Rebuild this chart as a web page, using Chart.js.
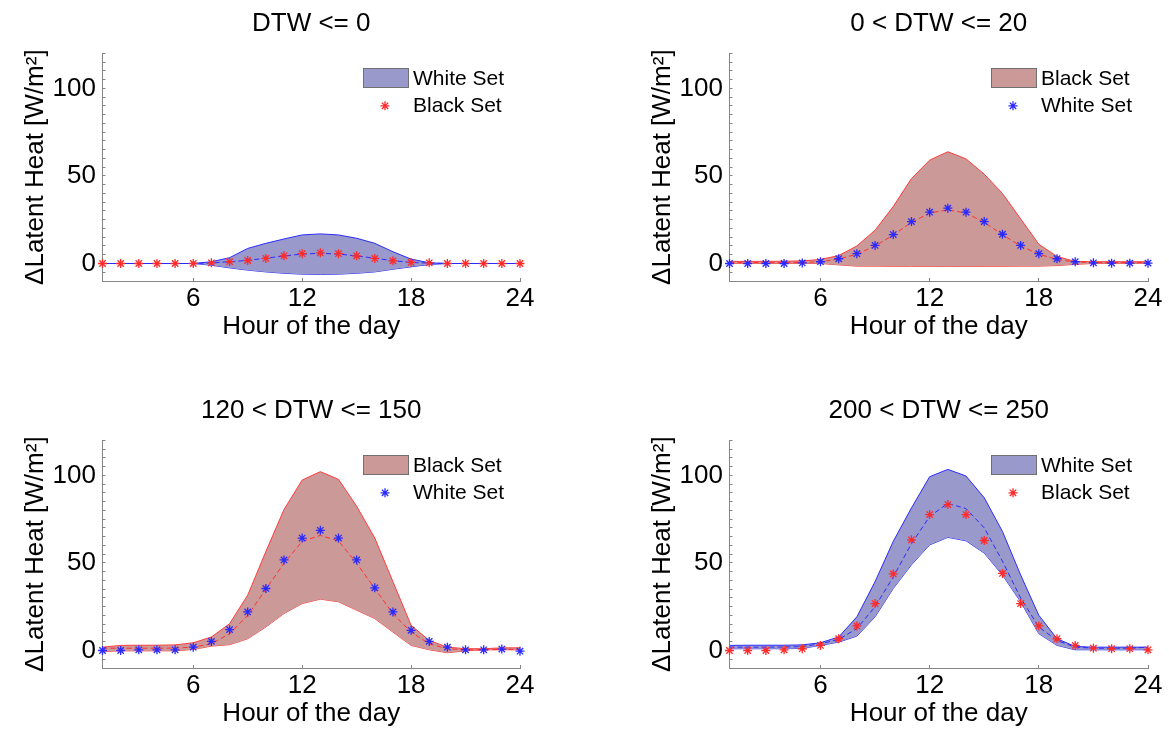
<!DOCTYPE html>
<html>
<head>
<meta charset="utf-8">
<script src="https://cdn.jsdelivr.net/npm/chart.js"></script>
<style>
  html, body { margin: 0; padding: 0; background: #ffffff; }
  body { width: 1169px; height: 729px; position: relative; overflow: hidden; }
  canvas { position: absolute; }
</style>
</head>
<body>
<canvas id="c1" width="627" height="387" style="left:0px;top:0px;"></canvas>
<canvas id="c2" width="542" height="387" style="left:627px;top:0px;"></canvas>
<canvas id="c3" width="627" height="342" style="left:0px;top:387px;"></canvas>
<canvas id="c4" width="542" height="342" style="left:627px;top:387px;"></canvas>
<script>
// ---------------- data ----------------
const hours = [1,2,3,4,5,6,7,8,9,10,11,12,13,14,15,16,17,18,19,20,21,22,23,24];
const xTickValues = [6, 12, 18, 24];
const yLabelValues = [0, 50, 100];
const yMinorStep = 5;

const panelTitles = ['DTW <= 0', '0 < DTW <= 20', '120 < DTW <= 150', '200 < DTW <= 250'];
const bandNames = ['White Set', 'Black Set', 'Black Set', 'White Set'];
const starNames = ['Black Set', 'White Set', 'White Set', 'Black Set'];

// Panel 1: DTW <= 0  (band = White Set, stars = Black Set)
const p1Upper = [0,0,0,0,0,0,1,3.3,8.6,11.5,14,16.3,16.9,16.3,14.4,11.5,6.7,2.5,0.4,0,0,0,0,0];
const p1Lower = [0,0,0,0,0,0,-1,-2.5,-3.8,-4.8,-5.6,-6.1,-6.3,-6.1,-5.6,-4.8,-3.3,-1.9,-0.6,0,0,0,0,0];
const p1Mean  = [0,0,0,0,0,0,0.3,1,1.8,3,4.3,5.4,5.8,5.4,4.3,3,1.6,0.6,0.2,0,0,0,0,0];
const p1Stars = [0,0,0,0,0,0,0.4,1,1.7,2.9,4.4,5.6,6.1,5.6,4.4,2.9,1.5,0.6,0.4,0,0,0,0,0];

// Panel 2: 0 < DTW <= 20  (band = Black Set, stars = White Set)
const p2Upper = [1.2,1.2,1.2,1.3,1.5,2.3,4.5,10,19,32.5,48.5,59,63.8,59.7,51,40,25.5,11,4,1.2,1,1,1,1];
const p2Lower = [0,0,0,0,0,0,-0.8,-1.5,-1.5,-1.6,-1.6,-1.7,-1.7,-1.7,-1.6,-1.6,-1.5,-1.5,-1.2,-0.5,0,0,0,0];
const p2Mean  = [0.5,0.5,0.5,0.5,0.6,1,2.5,5.3,10,16.2,23.5,28.8,30.6,28.8,23.5,16.4,10,5.3,2.3,0.8,0.5,0.5,0.5,0.6];
const p2Stars = [0,0,0,0,0.3,1,2.7,5.6,10.3,16.5,23.9,29.3,31.6,29.3,23.9,16.7,10.3,5.6,2.7,1,0.4,0.2,0.2,0.2];

// Panel 3: 120 < DTW <= 150  (band = Black Set, stars = White Set)
const p3Upper = [1.9,2.9,3,3,3.2,4.4,7.7,15.3,31.6,56.5,80.5,97.3,102.1,97.7,82.4,64.2,39.3,14.4,5.7,1.9,1,1,1.5,1.5];
const p3Lower = [-0.6,-0.2,-0.2,-0.2,-0.2,0.6,2.5,3.3,6.7,13.4,21.1,26.8,29.3,27.8,23,18.2,10.5,2.9,0.4,-1.3,-0.2,0.4,0.4,0.4];
const p3Mean  = [1.3,1.3,1.3,1.3,1.4,1.9,3.8,9.6,20,35,49.8,62.3,65.7,62.6,49.8,35.4,21,10.5,3.8,1,0.4,0.4,0.6,0.6];
const p3Stars = [0,0,0.4,0.4,0.4,1.9,5.2,11.9,22,35.4,51.7,64.2,68.6,64.2,51.7,35.8,22,11.5,5.2,1.9,0.4,0.4,0.8,-0.4];

// Panel 4: 200 < DTW <= 250  (band = White Set, stars = Black Set)
const p4Upper = [2.9,3,3,3,3.2,4.4,7.7,19.2,39.3,62.3,81.4,99.2,103.4,99.6,87.2,68,43.1,20.1,6.7,2.3,1.9,1.9,1.9,1.9];
const p4Lower = [1,1,1,1,1.2,2.9,4.8,8.2,19.2,35.4,48.9,60.3,64.6,62.6,55.6,43.1,27.8,9.6,2.9,0.4,0.4,0.4,0.4,0.4];
const p4Mean  = [1.9,1.9,1.9,2,2.2,3.8,6.3,12.5,25,42,61,76.5,84,81,70,51,30,13.4,5.7,1.9,1.3,1.3,1.3,1.9];
const p4Stars = [0,0,0,0.4,1,2.9,6.7,14,26.8,43.7,63.2,77.6,83.3,77.6,62.8,44,26.8,14,6.7,2.9,1.3,1,1,0.4];

// ---------------- styles ----------------
const FONT = '"Liberation Sans", Arial, Helvetica, sans-serif';
const FS = 26;
const AXIS_GREY = '#858585';
const BLUE = { fill: '#9999cc', edge: '#2b2bff', dash: '#2b2bff', star: '#2a2aff' };
const RED  = { fill: '#cc9999', edge: '#ff3b3b', dash: '#ff3030', star: '#ff2a2a' };

function pts(vals) { return hours.map((h, i) => ({ x: h, y: vals[i] })); }

const panelLegend = {
  id: 'panelLegend',
  afterDatasetsDraw(chart, args, opts) {
    const a = chart.chartArea;
    const ctx = chart.ctx;
    ctx.save();
    const bx = Math.round(a.right - 157), by = Math.round(a.top + 15);
    ctx.fillStyle = opts.bandFill;
    ctx.fillRect(bx, by, 46, 20);
    ctx.strokeStyle = '#707070';
    ctx.lineWidth = 1;
    ctx.strokeRect(bx + 0.5, by + 0.5, 45, 19);
    ctx.fillStyle = '#000';
    ctx.font = '21px ' + FONT;
    ctx.textAlign = 'left';
    ctx.textBaseline = 'middle';
    ctx.fillText(opts.bandLabel, a.right - 107, a.top + 26);
    ctx.fillText(opts.starLabel, a.right - 107, a.top + 53);
    // star marker
    const sx = a.right - 135, sy = a.top + 52.5, r = 4.5;
    ctx.strokeStyle = opts.starColor;
    ctx.lineWidth = 1.3;
    ctx.beginPath();
    for (let k = 0; k < 4; k++) {
      const ang = k * Math.PI / 4;
      ctx.moveTo(sx - r * Math.cos(ang), sy - r * Math.sin(ang));
      ctx.lineTo(sx + r * Math.cos(ang), sy + r * Math.sin(ang));
    }
    ctx.stroke();
    ctx.restore();
  }
};

function makePanel(id, title, upper, lower, mean, stars, bandCol, starCol, bandLabel, starLabel, isRight, isTop) {
  const ctx = document.getElementById(id);
  return new Chart(ctx, {
    type: 'line',
    data: {
      datasets: [
        {
          label: starLabel,
          data: pts(stars),
          showLine: false,
          pointStyle: 'star',
          pointRadius: 4.5,
          pointBorderWidth: 1.3,
          pointBorderColor: starCol.star,
          pointBackgroundColor: starCol.star,
          borderColor: starCol.star,
          clip: false
        },
        {
          label: bandLabel + ' mean',
          data: pts(mean),
          borderColor: bandCol.dash,
          borderWidth: 1,
          borderDash: [5, 3],
          pointRadius: 0,
          fill: false,
          tension: 0
        },
        {
          label: bandLabel,
          data: pts(upper),
          borderColor: bandCol.edge,
          borderWidth: 1,
          backgroundColor: bandCol.fill,
          pointRadius: 0,
          fill: '+1',
          tension: 0
        },
        {
          label: bandLabel + ' lower',
          data: pts(lower),
          borderColor: bandCol.edge,
          borderWidth: 1,
          pointRadius: 0,
          fill: false,
          tension: 0
        }
      ]
    },
    options: {
      responsive: false,
      devicePixelRatio: 1,
      animation: false,
      events: [],
      layout: { padding: { top: 0, left: 6, right: isRight ? 21 : 107, bottom: isTop ? 45 : 0 } },
      plugins: {
        legend: { display: false },
        tooltip: { enabled: false },
        title: {
          display: true,
          text: title,
          fullSize: false,
          color: '#000',
          font: { family: FONT, size: FS, weight: 'normal', lineHeight: 1.2 },
          padding: { top: 8.4, bottom: 13.7 }
        },
        panelLegend: { bandFill: bandCol.fill, bandLabel: bandLabel, starLabel: starLabel, starColor: starCol.star }
      },
      scales: {
        x: {
          type: 'linear',
          min: 1, max: 24,
          afterBuildTicks: (s) => { s.ticks = xTickValues.map(v => ({ value: v })); },
          afterFit: (s) => { s.height = 61; },
          grid: { display: true, drawOnChartArea: false, drawTicks: true, tickLength: -3, color: AXIS_GREY, tickColor: AXIS_GREY },
          border: { display: true, color: AXIS_GREY, width: 1 },
          ticks: { color: '#000', font: { family: FONT, size: FS }, padding: 5.4, maxRotation: 0, autoSkip: false,
                   callback: (v) => String(v) },
          title: { display: true, text: 'Hour of the day', color: '#000', font: { family: FONT, size: FS, lineHeight: 1.2 }, padding: { top: 0, bottom: 0 } }
        },
        y: {
          type: 'linear',
          min: -10, max: 120,
          afterBuildTicks: (s) => {
            const t = [];
            for (let v = -10; v <= 120; v += yMinorStep) t.push({ value: v });
            s.ticks = t;
          },
          afterFit: (s) => { s.width = 96.5; },
          grid: { display: true, drawOnChartArea: false, drawTicks: true, tickLength: -3, color: AXIS_GREY, tickColor: AXIS_GREY },
          border: { display: true, color: AXIS_GREY, width: 1 },
          ticks: { color: '#000', font: { family: FONT, size: FS }, padding: 9.5, autoSkip: false,
                   callback: (v) => yLabelValues.includes(v) ? String(v) : '' },
          title: { display: true, text: 'ΔLatent Heat [W/m²]', color: '#000', font: { family: FONT, size: FS, lineHeight: 1.2 }, padding: { top: 14.4, bottom: 0 } }
        }
      }
    },
    plugins: [panelLegend]
  });
}

makePanel('c1', panelTitles[0], p1Upper, p1Lower, p1Mean, p1Stars, BLUE, RED, bandNames[0], starNames[0], false, true);
makePanel('c2', panelTitles[1], p2Upper, p2Lower, p2Mean, p2Stars, RED, BLUE, bandNames[1], starNames[1], true, true);
makePanel('c3', panelTitles[2], p3Upper, p3Lower, p3Mean, p3Stars, RED, BLUE, bandNames[2], starNames[2], false, false);
makePanel('c4', panelTitles[3], p4Upper, p4Lower, p4Mean, p4Stars, BLUE, RED, bandNames[3], starNames[3], true, false);
</script>
</body>
</html>
